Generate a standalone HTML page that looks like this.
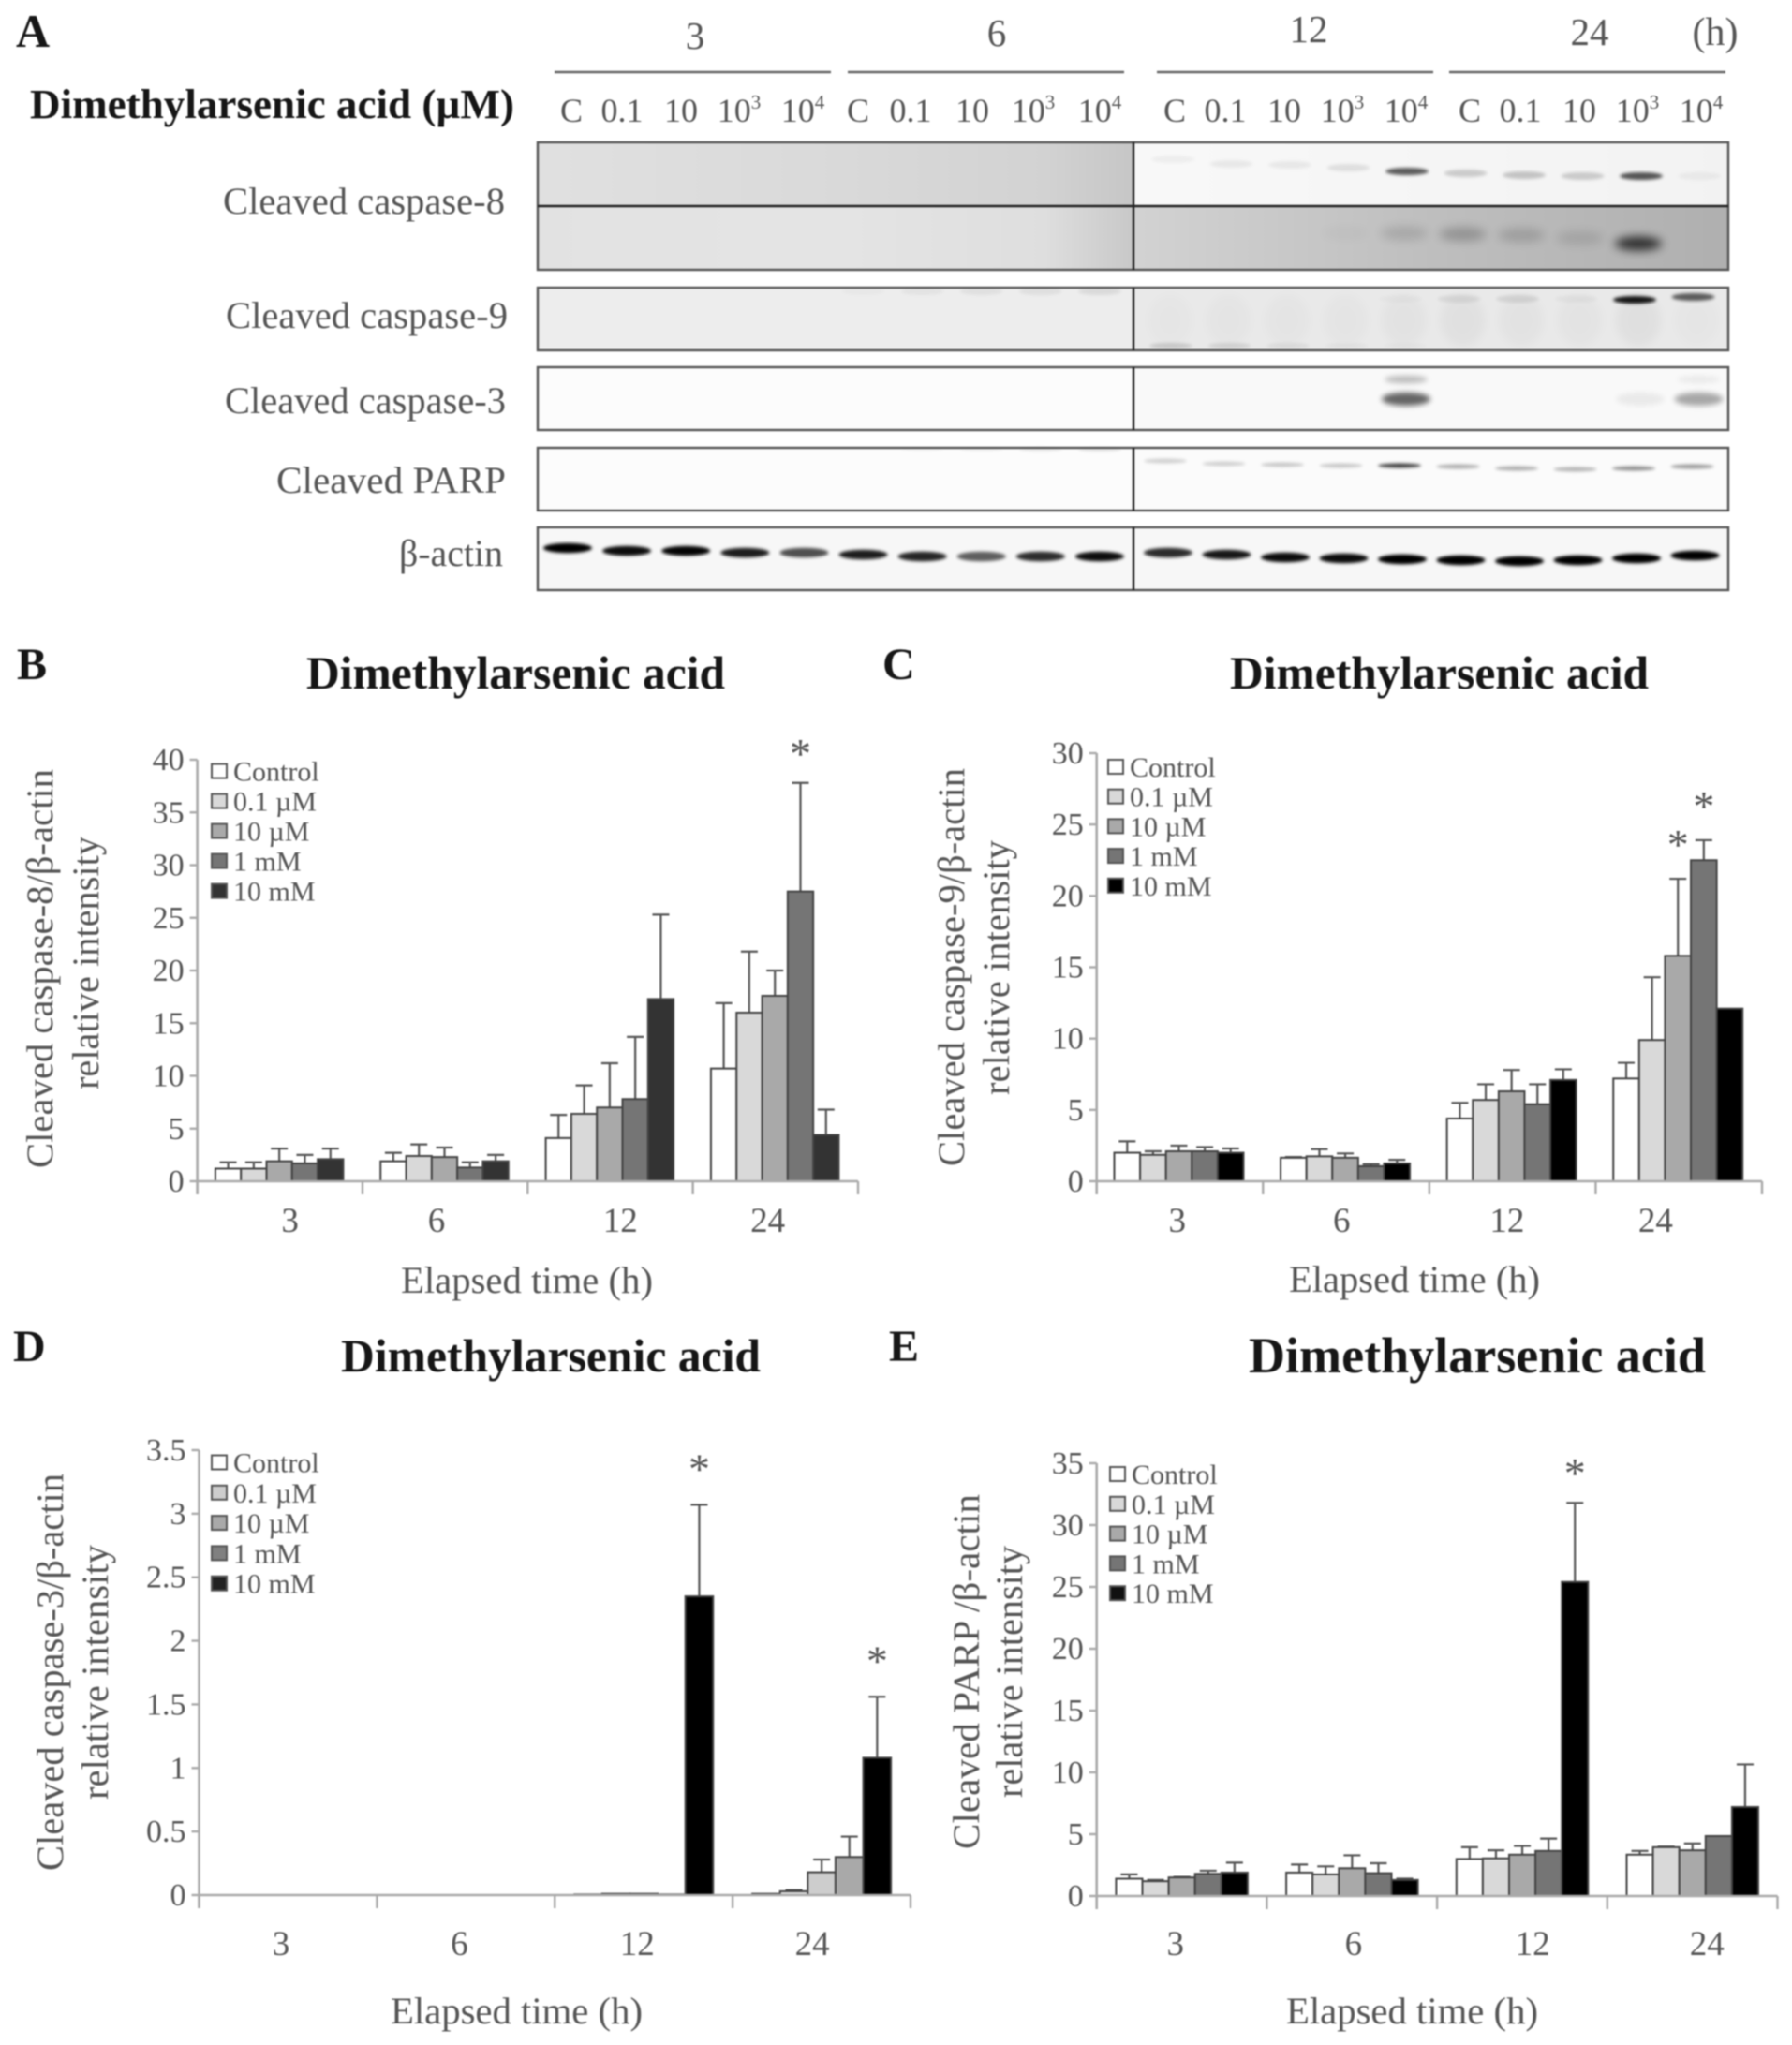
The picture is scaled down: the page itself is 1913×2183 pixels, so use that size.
<!DOCTYPE html>
<html lang="en">
<head>
<meta charset="utf-8">
<title>Dimethylarsenic acid western blot and densitometry</title>
<style>
html,body{margin:0;padding:0;background:#fff;width:1913px;height:2183px;overflow:hidden}
svg{display:block;filter:blur(0.7px)}
text{font-family:"Liberation Serif","DejaVu Serif",serif}
.g{fill:#555}
.t{fill:#161616;font-weight:bold}
</style>
</head>
<body>
<svg id="fig" xmlns="http://www.w3.org/2000/svg" width="1913" height="2183" viewBox="0 0 1913 2183">
<defs>
<filter id="bb" x="-40%" y="-120%" width="180%" height="340%"><feGaussianBlur stdDeviation="1.6"/></filter>
<filter id="bm" x="-40%" y="-120%" width="180%" height="340%"><feGaussianBlur stdDeviation="3"/></filter>
<filter id="bw" x="-40%" y="-120%" width="180%" height="340%"><feGaussianBlur stdDeviation="5"/></filter>
<linearGradient id="g1a" x1="0" x2="1" y1="0" y2="0"><stop offset="0" stop-color="#e0e0e0"/><stop offset=".5" stop-color="#d9d9d9"/><stop offset=".85" stop-color="#d2d2d2"/><stop offset="1" stop-color="#c6c6c6"/></linearGradient>
<linearGradient id="g1b" x1="0" x2="1" y1="0" y2="0"><stop offset="0" stop-color="#e2e2e2"/><stop offset=".5" stop-color="#e4e4e4"/><stop offset=".85" stop-color="#dedede"/><stop offset="1" stop-color="#c8c8c8"/></linearGradient>
<linearGradient id="g1c" x1="0" x2="1" y1="0" y2="0"><stop offset="0" stop-color="#f8f8f8"/><stop offset="1" stop-color="#f2f2f2"/></linearGradient>
<linearGradient id="g1d" x1="0" x2="1" y1="0" y2="0"><stop offset="0" stop-color="#d2d2d2"/><stop offset=".5" stop-color="#bebebe"/><stop offset="1" stop-color="#afafaf"/></linearGradient>
</defs>

<g id="blot">
<text class="t" x="17" y="50" font-size="50">A</text>
<text class="t" x="32" y="126" font-size="44" textLength="517" lengthAdjust="spacingAndGlyphs">Dimethylarsenic acid (µM)</text>
<text class="g" x="742" y="52" font-size="41" text-anchor="middle">3</text>
<text class="g" x="1064" y="49" font-size="41" text-anchor="middle">6</text>
<text class="g" x="1397" y="45" font-size="41" text-anchor="middle">12</text>
<text class="g" x="1697" y="48" font-size="41" text-anchor="middle">24</text>
<text class="g" x="1831" y="48" font-size="42" text-anchor="middle">(h)</text>
<line x1="592" x2="887" y1="77" y2="77" stroke="#666" stroke-width="2.5"/>
<line x1="905" x2="1200" y1="77" y2="77" stroke="#666" stroke-width="2.5"/>
<line x1="1235" x2="1530" y1="77" y2="77" stroke="#666" stroke-width="2.5"/>
<line x1="1547" x2="1842" y1="77" y2="77" stroke="#666" stroke-width="2.5"/>

<text class="g" x="238" y="228" font-size="40" textLength="301" lengthAdjust="spacingAndGlyphs">Cleaved caspase-8</text>
<text class="g" x="241" y="350" font-size="40" textLength="301" lengthAdjust="spacingAndGlyphs">Cleaved caspase-9</text>
<text class="g" x="240" y="441" font-size="40" textLength="300" lengthAdjust="spacingAndGlyphs">Cleaved caspase-3</text>
<text class="g" x="295" y="526" font-size="40" textLength="245" lengthAdjust="spacingAndGlyphs">Cleaved PARP</text>
<text class="g" x="426" y="604" font-size="40" textLength="111" lengthAdjust="spacingAndGlyphs">β-actin</text>

<g id="blotBg">
<rect x="574" y="152" width="636" height="68" fill="url(#g1a)"/>
<rect x="1210" y="152" width="635" height="68" fill="url(#g1c)"/>
<rect x="574" y="220" width="636" height="68" fill="url(#g1b)"/>
<rect x="1210" y="220" width="635" height="68" fill="url(#g1d)"/>
<rect x="574" y="307" width="636" height="67" fill="#ededed"/>
<rect x="1210" y="307" width="635" height="67" fill="#e9e9e9"/>
<rect x="574" y="392" width="636" height="67" fill="#fcfcfc"/>
<rect x="1210" y="392" width="635" height="67" fill="#f9f9f9"/>
<rect x="574" y="478" width="636" height="67" fill="#fcfcfc"/>
<rect x="1210" y="478" width="635" height="67" fill="#fbfbfb"/>
<rect x="574" y="563" width="636" height="67" fill="#f7f7f7"/>
<rect x="1210" y="563" width="635" height="67" fill="#f7f7f7"/>
</g>
<g id="blotBands"></g>
<g id="blotFrames" fill="none" stroke="#555" stroke-width="2.4">
<rect x="574" y="152" width="1271" height="136"/>
<line x1="574" x2="1845" y1="220" y2="220" stroke="#222" stroke-width="2.6"/>
<rect x="574" y="307" width="1271" height="67"/>
<rect x="574" y="392" width="1271" height="67"/>
<rect x="574" y="478" width="1271" height="67"/>
<rect x="574" y="563" width="1271" height="67"/>
<line x1="1210" x2="1210" y1="152" y2="288" stroke="#222" stroke-width="2.4"/>
<line x1="1210" x2="1210" y1="307" y2="374" stroke="#222" stroke-width="2.4"/>
<line x1="1210" x2="1210" y1="392" y2="459" stroke="#222" stroke-width="2.4"/>
<line x1="1210" x2="1210" y1="478" y2="545" stroke="#222" stroke-width="2.4"/>
<line x1="1210" x2="1210" y1="563" y2="630" stroke="#222" stroke-width="2.4"/>
</g>
<g id="laneLabels"></g>
</g>

<g>
<text class="t" x="18" y="725" font-size="48">B</text>
<text class="t" x="327" y="735" font-size="50" textLength="447" lengthAdjust="spacingAndGlyphs">Dimethylarsenic acid</text>
<text class="g" transform="translate(56,1247) rotate(-90)" font-size="40" textLength="426" lengthAdjust="spacingAndGlyphs">Cleaved caspase-8/β-actin</text>
<text class="g" transform="translate(105,1163) rotate(-90)" font-size="40" textLength="270" lengthAdjust="spacingAndGlyphs">relative intensity</text>
<text class="g" x="428" y="1380" font-size="40" textLength="269" lengthAdjust="spacingAndGlyphs">Elapsed time (h)</text>
</g>
<g>
<text class="t" x="942" y="725" font-size="48">C</text>
<text class="t" x="1313" y="735" font-size="50" textLength="447" lengthAdjust="spacingAndGlyphs">Dimethylarsenic acid</text>
<text class="g" transform="translate(1029,1245) rotate(-90)" font-size="40" textLength="425" lengthAdjust="spacingAndGlyphs">Cleaved caspase-9/β-actin</text>
<text class="g" transform="translate(1077,1169) rotate(-90)" font-size="40" textLength="272" lengthAdjust="spacingAndGlyphs">relative intensity</text>
<text class="g" x="1376" y="1379" font-size="40" textLength="268" lengthAdjust="spacingAndGlyphs">Elapsed time (h)</text>
</g>
<g>
<text class="t" x="14" y="1453" font-size="48">D</text>
<text class="t" x="364" y="1464" font-size="50" textLength="448" lengthAdjust="spacingAndGlyphs">Dimethylarsenic acid</text>
<text class="g" transform="translate(67,1997) rotate(-90)" font-size="40" textLength="424" lengthAdjust="spacingAndGlyphs">Cleaved caspase-3/β-actin</text>
<text class="g" transform="translate(115,1921) rotate(-90)" font-size="40" textLength="272" lengthAdjust="spacingAndGlyphs">relative intensity</text>
<text class="g" x="417" y="2160" font-size="40" textLength="269" lengthAdjust="spacingAndGlyphs">Elapsed time (h)</text>
</g>
<g>
<text class="t" x="949" y="1453" font-size="48">E</text>
<text class="t" x="1333" y="1465" font-size="54" textLength="488" lengthAdjust="spacingAndGlyphs">Dimethylarsenic acid</text>
<text class="g" transform="translate(1045,1974) rotate(-90)" font-size="40" textLength="379" lengthAdjust="spacingAndGlyphs">Cleaved PARP /β-actin</text>
<text class="g" transform="translate(1091,1919) rotate(-90)" font-size="40" textLength="269" lengthAdjust="spacingAndGlyphs">relative intensity</text>
<text class="g" x="1373" y="2160" font-size="40" textLength="269" lengthAdjust="spacingAndGlyphs">Elapsed time (h)</text>
</g>
<g id="charts"></g>
</svg>

<script>
// ---------- chart data (rows = time points, columns = concentrations) ----------
const categories = ['3', '6', '12', '24'];
const seriesNames = ['Control', '0.1 µM', '10 µM', '1 mM', '10 mM'];

const panelBMeans = [
  [1.2, 1.2, 1.9, 1.7, 2.1],
  [1.9, 2.4, 2.3, 1.3, 1.9],
  [4.1, 6.4, 7.0, 7.8, 17.3],
  [10.7, 16.0, 17.6, 27.5, 4.4]
];
const panelBUpper = [
  [1.8, 1.8, 3.1, 2.5, 3.1],
  [2.7, 3.5, 3.2, 1.8, 2.5],
  [6.3, 9.1, 11.2, 13.7, 25.3],
  [16.9, 21.8, 20.0, 37.8, 6.8]
];
const panelBTicks = ['0', '5', '10', '15', '20', '25', '30', '35', '40'];
const panelBStars = [[3, 3]];

const panelCMeans = [
  [2.0, 1.85, 2.1, 2.1, 2.0],
  [1.65, 1.75, 1.65, 1.05, 1.25],
  [4.4, 5.7, 6.3, 5.4, 7.1],
  [7.2, 9.9, 15.8, 22.5, 12.1]
];
const panelCUpper = [
  [2.8, 2.1, 2.5, 2.4, 2.3],
  [1.7, 2.25, 1.95, 1.2, 1.5],
  [5.5, 6.8, 7.8, 6.8, 7.85],
  [8.3, 14.3, 21.2, 23.9, 12.1]
];
const panelCTicks = ['0', '5', '10', '15', '20', '25', '30'];
const panelCStars = [[3, 2], [3, 3]];

const panelDMeans = [
  [0, 0, 0, 0, 0],
  [0, 0, 0, 0, 0],
  [0.005, 0.01, 0.01, 0.005, 2.35],
  [0.01, 0.03, 0.18, 0.3, 1.08]
];
const panelDUpper = [
  [0, 0, 0, 0, 0],
  [0, 0, 0, 0, 0],
  [0.005, 0.01, 0.01, 0.005, 3.07],
  [0.01, 0.04, 0.28, 0.46, 1.56]
];
const panelDTicks = ['0', '0.5', '1', '1.5', '2', '2.5', '3', '3.5'];
const panelDStars = [[2, 4], [3, 4]];

const panelEMeans = [
  [1.4, 1.2, 1.5, 1.8, 1.9],
  [1.9, 1.75, 2.25, 1.85, 1.3],
  [3.0, 3.05, 3.35, 3.65, 25.4],
  [3.35, 3.95, 3.7, 4.85, 7.2]
];
const panelEUpper = [
  [1.75, 1.3, 1.55, 2.05, 2.7],
  [2.55, 2.4, 3.3, 2.65, 1.4],
  [3.95, 3.7, 4.05, 4.65, 31.8],
  [3.65, 4.0, 4.25, 4.85, 10.65]
];
const panelETicks = ['0', '5', '10', '15', '20', '25', '30', '35'];
const panelEStars = [[2, 4]];

// ---------- blot data: band darkness per lane (0-1), 20 lanes, plus gel migration drift ----------
const laneTexts = ['C', '0.1', '10', '10|3', '10|4'];
const caspase8UpperBands = [0,0,0,0,0,0,0,0,0,0, .04,.06,.06,.09,.62,.17,.2,.17,.65,.04];
const caspase8UpperDrift = [0,0,0,0,0,0,0,0,0,0, -12,-7,-6,-3,1,3,5,6,6,6];
const caspase8LowerBands = [0,0,0,0,0,0,0,0,0,0, 0,0,0,.02,.12,.22,.15,.1,.75,0];
const caspase8LowerDrift = [0,0,0,0,0,0,0,0,0,0, 0,0,0,-4,-4,-3,-2,1,7,0];
const caspase9TopBands = [0,0,0,0,0,.02,.04,.05,.06,.08, 0,0,0,0,.02,.07,.09,.03,.9,.6];
const caspase9TopDrift = [0,0,0,0,0,-8,-8,-8,-8,-8, 0,0,0,0,0,0,0,0,1,-2];
const caspase9LowBands = [0,0,0,0,0,0,0,0,0,0, .14,.1,.06,.03,.02,0,0,0,0,0];
const caspase9Smears = [0,0,0,0,0,0,0,0,0,0, .01,.015,.015,.015,.025,.03,.025,.02,.035,.01];
const caspase3Bands = [0,0,0,0,0,0,0,0,0,0, 0,0,0,0,.6,0,0,0,.06,.33];
const caspase3UpperBands = [0,0,0,0,0,0,0,0,0,0, 0,0,0,0,.25,0,0,0,0,.06];
const parpBands = [0,0,0,0,0,0,.02,.03,.06,.08, .17,.17,.2,.2,.75,.3,.3,.28,.42,.38];
const parpDrift = [0,0,0,0,0,0,-16,-16,-16,-16, -4,-1,0,1,1,2,4,5,4,2];
const actinBands = [1,.95,.98,.88,.68,.88,.85,.62,.82,.95, .82,.9,.95,.95,1,1,1,1,1,1];
const actinDrift = [-5,-2,-2,0,0,2,4,4,4,4, 0,2,5,6,7,8,9,8,6,3];

// ---------- helpers ----------
const NS = 'http://www.w3.org/2000/svg';
function make(tag, attrs, parent) {
  const node = document.createElementNS(NS, tag);
  for (const k in attrs) node.setAttribute(k, attrs[k]);
  parent.appendChild(node);
  return node;
}

// ---------- blot ----------
const laneGroup = document.getElementById('laneLabels');
const bandGroup = document.getElementById('blotBands');
function laneX(i) { return i < 10 ? 606 + i * 63.1 : 1247 + (i - 10) * 62.5; }
function laneLabelX(i) {
  const g = Math.floor(i / 5);
  const k = i % 5;
  const starts = [610, 916, 1254, 1569];
  const steps = g === 1 ? [0, 56, 122, 187, 258] : [0, 54, 117, 179, 247];
  return starts[g] + steps[k];
}

laneTexts.concat(laneTexts, laneTexts, laneTexts).forEach(function (txt, i) {
  const parts = txt.split('|');
  const t = make('text', {x: laneLabelX(i), y: 130, 'font-size': 36, 'text-anchor': 'middle', class: 'g'}, laneGroup);
  
  
  t.textContent = parts[0];
  if (parts[1]) {
    const s = make('tspan', {dy: -14, 'font-size': 21}, t);
    s.textContent = parts[1];
  }
});

function drawBands(values, drift, centerY, shift, w, h, filter, name) {
  values.forEach(function (dark, i) {
    if (dark <= 0) return;
    const cy = centerY + (drift ? drift[i] : 0);
    const b = make('ellipse', {cx: laneX(i) + (i < 10 ? 0 : shift), cy: cy, rx: w / 2, ry: h / 2, fill: '#000', opacity: dark, filter: 'url(#' + filter + ')'}, bandGroup);
    
    
  });
}
drawBands(caspase9Smears, null, 342, 2, 48, 56, 'bw', 'caspase-9-lane-smear');
drawBands(caspase8UpperBands, caspase8UpperDrift, 182, 5, 46, 8, 'bb', 'caspase-8-upper-band');
drawBands(caspase8LowerBands, caspase8LowerDrift, 253, 2, 50, 15, 'bw', 'caspase-8-lower-band');
drawBands(caspase9TopBands, caspase9TopDrift, 319, -2, 46, 8, 'bb', 'caspase-9-band');
drawBands(caspase9LowBands, null, 369, 3, 46, 6, 'bb', 'caspase-9-low-band');
drawBands(caspase3Bands, null, 426, 4, 52, 14, 'bm', 'caspase-3-band');
drawBands(caspase3UpperBands, null, 405, 4, 46, 8, 'bm', 'caspase-3-upper-band');
drawBands(parpBands, parpDrift, 496, -3, 46, 5, 'bb', 'parp-band');
drawBands(actinBands, actinDrift, 590, 0, 52, 10.5, 'bb', 'beta-actin-band');

// ---------- charts ----------
const chartRoot = document.getElementById('charts');

function drawPanel(cfg) {
  const panel = make('g', {}, chartRoot);
  
  

  const yMax = parseFloat(cfg.ticks[cfg.ticks.length - 1]);
  const yScale = function (v) { return cfg.y0 - (v / yMax) * (cfg.y0 - cfg.yTop); };
  const groupWidth = (cfg.x1 - cfg.x0) / categories.length;
  const barX = function (g, s) { return cfg.x0 + g * groupWidth + cfg.offset + s * cfg.barW; };

  // bars and error bars
  cfg.means.forEach(function (row, g) {
    row.forEach(function (val, s) {
      const top = yScale(val);
      const up = cfg.upper[g][s];
      const cx = barX(g, s) + cfg.barW / 2;
      if (up > val + 1e-9) {
        const stem = make('line', {x1: cx, x2: cx, y1: top, y2: yScale(up), stroke: '#555', 'stroke-width': 2.2}, panel);
        
        
        const cap = make('line', {x1: cx - 9, x2: cx + 9, y1: yScale(up), y2: yScale(up), stroke: '#555', 'stroke-width': 2.2}, panel);
        
        
      }
      if (val > 0) {
        const bar = make('rect', {x: barX(g, s), y: top, width: cfg.barW, height: cfg.y0 - top, fill: cfg.barColors[s], stroke: '#444', 'stroke-width': 2}, panel);
        
        
      }
    });
  });

  // axes
  const xAxis = make('line', {x1: cfg.x0, x2: cfg.x1, y1: cfg.y0, y2: cfg.y0, stroke: '#aaa', 'stroke-width': 2.6}, panel);
  
  
  const yAxis = make('line', {x1: cfg.x0, x2: cfg.x0, y1: cfg.yTop, y2: cfg.y0 + 14, stroke: '#aaa', 'stroke-width': 2.6}, panel);
  
  

  for (let i = 0; i <= categories.length; i++) {
    const gx = cfg.x0 + i * groupWidth;
    const tick = make('line', {x1: gx, x2: gx, y1: cfg.y0, y2: cfg.y0 + 14, stroke: '#aaa', 'stroke-width': 2.4}, panel);
    
    
  }

  cfg.ticks.forEach(function (label) {
    const ty = yScale(parseFloat(label));
    const tick = make('line', {x1: cfg.x0 - 8, x2: cfg.x0, y1: ty, y2: ty, stroke: '#aaa', 'stroke-width': 2.4}, panel);
    
    
    const t = make('text', {x: cfg.x0 - 14, y: ty + 11, 'font-size': 34, 'text-anchor': 'end', class: 'g'}, panel);
    
    
    t.textContent = label;
  });

  categories.forEach(function (label, g) {
    const cx = cfg.x0 + g * groupWidth + cfg.catShift[g];
    const t = make('text', {x: cx, y: cfg.catY, 'font-size': 37, 'text-anchor': 'middle', class: 'g'}, panel);
    
    
    t.textContent = label;
  });

  // significance stars
  cfg.stars.forEach(function (pos) {
    const cx = barX(pos[0], pos[1]) + cfg.barW / 2;
    const t = make('text', {x: cx, y: yScale(cfg.upper[pos[0]][pos[1]]) - cfg.starGap + 24, 'font-size': 46, 'text-anchor': 'middle', fill: '#555'}, panel);
    
    
    t.textContent = '*';
  });

  // legend
  seriesNames.forEach(function (label, s) {
    const ly = cfg.legY + s * cfg.legStep;
    const sw = make('rect', {x: cfg.legX, y: ly - 8, width: 16, height: 15, fill: cfg.legColors[s], stroke: '#555', 'stroke-width': 2}, panel);
    
    
    const t = make('text', {x: cfg.legX + 23, y: ly + 10, 'font-size': 30, class: 'g'}, panel);
    
    
    t.textContent = label;
  });
}

drawPanel({
  name: 'chart-caspase-8', means: panelBMeans, upper: panelBUpper, ticks: panelBTicks, stars: panelBStars,
  x0: 210.6, x1: 916, yTop: 811, y0: 1261, offset: 19.3, barW: 27.3,
  catShift: [99, 79, 99, 80], catY: 1315, starGap: 40,
  legX: 226, legY: 823.6, legStep: 32,
  barColors: ['#fff', '#d9d9d9', '#a9a9a9', '#757575', '#333'],
  legColors: ['#fff', '#d9d9d9', '#a9a9a9', '#757575', '#333']
});
drawPanel({
  name: 'chart-caspase-9', means: panelCMeans, upper: panelCUpper, ticks: panelCTicks, stars: panelCStars,
  x0: 1170.7, x1: 1881, yTop: 804, y0: 1261, offset: 18.8, barW: 27.6,
  catShift: [86, 84, 83, 64], catY: 1315, starGap: 45,
  legX: 1183, legY: 819, legStep: 31.7,
  barColors: ['#fff', '#d9d9d9', '#a9a9a9', '#757575', '#000'],
  legColors: ['#fff', '#d9d9d9', '#a9a9a9', '#757575', '#000']
});
drawPanel({
  name: 'chart-caspase-3', means: panelDMeans, upper: panelDUpper, ticks: panelDTicks, stars: panelDStars,
  x0: 212.5, x1: 972, yTop: 1548, y0: 2023, offset: 21, barW: 29.6,
  catShift: [87.5, 88, 88, 85], catY: 2087, starGap: 47,
  legX: 226, legY: 1561.5, legStep: 32.3,
  barColors: ['#fff', '#ddd', '#cdcdcd', '#a9a9a9', '#000'],
  legColors: ['#fff', '#cdcdcd', '#a9a9a9', '#808080', '#222']
});
drawPanel({
  name: 'chart-parp', means: panelEMeans, upper: panelEUpper, ticks: panelETicks, stars: panelEStars,
  x0: 1170.7, x1: 1897.5, yTop: 1562, y0: 2024, offset: 20.7, barW: 28.1,
  catShift: [84, 92.5, 102, 106.5], catY: 2087, starGap: 40,
  legX: 1185, legY: 1574, legStep: 31.8,
  barColors: ['#fff', '#d9d9d9', '#a9a9a9', '#757575', '#000'],
  legColors: ['#fff', '#d9d9d9', '#a9a9a9', '#757575', '#111']
});
</script>
</body>
</html>
